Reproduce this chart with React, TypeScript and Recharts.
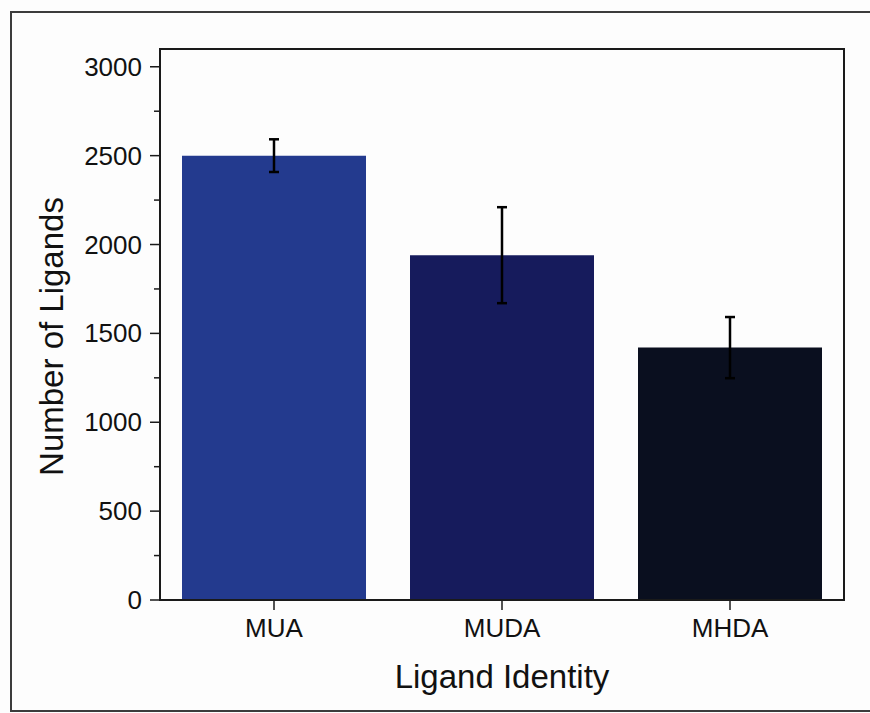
import React from "react";
import {
  BarChart,
  Bar,
  XAxis,
  YAxis,
  ErrorBar,
  Cell,
} from "recharts";

const ligands = ["MUA", "MUDA", "MHDA"];
const counts = [2500, 1940, 1420];
const errors = [92, 270, 172];
const barColors = ["#233a8e", "#161b5c", "#0a0f1f"];
const yTicks = [0, 250, 500, 750, 1000, 1250, 1500, 1750, 2000, 2250, 2500, 2750, 3000];

const data = ligands.map((name, i) => ({ name, value: counts[i], err: errors[i] }));

const FONT = "'Liberation Sans', Arial, sans-serif";
const AXIS = "#1a1a1a";

function YTick(props: any) {
  const { x, y, payload } = props;
  const major = payload.value % 500 === 0;
  return (
    <g>
      <line x1={x - (major ? 10 : 6)} x2={x} y1={y} y2={y} stroke={AXIS} strokeWidth={1.5} />
      {major && (
        <text x={x - 18} y={y} dy={9} textAnchor="end" fontSize={26} fontFamily={FONT} fill="#111">
          {payload.value}
        </text>
      )}
    </g>
  );
}

function XTick(props: any) {
  const { x, y, payload } = props;
  return (
    <g>
      <line x1={x} x2={x} y1={y} y2={y + 10} stroke={AXIS} strokeWidth={1.5} />
      <text x={x} y={y + 37} textAnchor="middle" fontSize={26} fontFamily={FONT} fill="#111">
        {payload.value}
      </text>
    </g>
  );
}

function XTitle(props: any) {
  const { viewBox } = props;
  return (
    <text
      x={viewBox.x + viewBox.width / 2}
      y={viewBox.y + viewBox.height - 25}
      textAnchor="middle"
      fontSize={33}
      fontFamily={FONT}
      fill="#111"
    >
      Ligand Identity
    </text>
  );
}

function YTitle(props: any) {
  const { viewBox } = props;
  const cx = viewBox.x + 63;
  const cy = viewBox.y + viewBox.height / 2 + 12;
  return (
    <text
      x={cx}
      y={cy}
      transform={`rotate(-90, ${cx}, ${cy})`}
      textAnchor="middle"
      fontSize={33}
      fontFamily={FONT}
      fill="#111"
    >
      Number of Ligands
    </text>
  );
}

export default function App() {
  return (
    <div style={{ position: "absolute", left: 0, top: 0, width: 870, height: 713, background: "#fdfdfd", overflow: "hidden" }}>
      {/* outer figure border */}
      <div
        style={{
          position: "absolute",
          left: 10,
          top: 11,
          width: 880,
          height: 697,
          border: "2px solid #3c3c3c",
        }}
      />
      <div style={{ position: "absolute", left: 0, top: 0 }}>
        <BarChart
          width={870}
          height={713}
          data={data}
          margin={{ top: 49, right: 26, left: 0, bottom: 0 }}
          barSize={184}
        >
          <XAxis
            dataKey="name"
            height={113}
            tickLine={false}
            tickSize={0}
            tickMargin={0}
            tick={<XTick />}
            axisLine={{ stroke: AXIS, strokeWidth: 2 }}
            label={<XTitle />}
          />
          <YAxis
            width={160}
            domain={[0, 3100]}
            ticks={yTicks}
            interval={0}
            tickLine={false}
            tickSize={0}
            tickMargin={0}
            tick={<YTick />}
            axisLine={{ stroke: AXIS, strokeWidth: 2 }}
            label={<YTitle />}
          />
          <Bar dataKey="value" isAnimationActive={false}>
            {data.map((d, i) => (
              <Cell key={d.name} fill={barColors[i]} />
            ))}
            <ErrorBar dataKey="err" width={5} stroke="#000" strokeWidth={2.5} isAnimationActive={false} />
          </Bar>
        </BarChart>
      </div>
      {/* plot frame */}
      <div
        style={{
          position: "absolute",
          left: 159,
          top: 48,
          width: 686,
          height: 553,
          boxSizing: "border-box",
          border: `2px solid ${AXIS}`,
          pointerEvents: "none",
        }}
      />
    </div>
  );
}
